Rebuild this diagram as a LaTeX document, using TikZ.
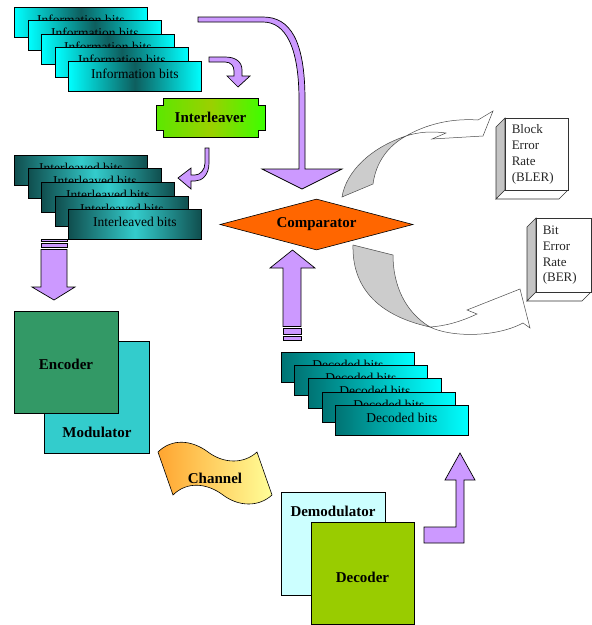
\documentclass[tikz,border=0pt]{standalone}
\usepackage{fontspec}
\setmainfont{Liberation Serif}
\usetikzlibrary{shapes.geometric}

\definecolor{lav}{HTML}{CC99FF}
\definecolor{encgreen}{HTML}{339966}
\definecolor{turq}{HTML}{33CCCC}
\definecolor{palecyan}{HTML}{CCFFFF}
\definecolor{olivegreen}{HTML}{99CC00}
\definecolor{orng}{HTML}{FF6600}
\definecolor{darkteal}{HTML}{0E5E5E}
\definecolor{nightteal}{HTML}{104E4E}
\definecolor{deepteal}{HTML}{007373}
\definecolor{aqua}{HTML}{00FFFF}
\definecolor{ribbongray}{HTML}{CCCCCC}
\definecolor{sidegray}{HTML}{C4C4C4}
\definecolor{limeA}{HTML}{5BE800}
\definecolor{limeB}{HTML}{9BD000}
\definecolor{limeC}{HTML}{3CFF00}
\definecolor{chanA}{HTML}{FFA530}
\definecolor{chanB}{HTML}{FFFF99}

\tikzset{
  bitbox/.style={draw=black, line width=0.8pt, minimum width=133pt, minimum height=30pt,
    inner sep=0pt, anchor=north west, text height=10pt, text depth=6pt,
    font=\fontsize{13.5}{16}\selectfont},
  infobox/.style={bitbox, left color=aqua, right color=aqua, middle color=darkteal},
  leavedbox/.style={bitbox, left color=nightteal, right color=nightteal, middle color=turq},
  decodedbox/.style={bitbox, left color=deepteal, right color=aqua},
  blockarrow/.style={fill=lav, draw=black, line width=0.7pt, line join=miter},
  blockfont/.style={font=\fontsize{15}{18}\selectfont\bfseries},
  unitbox/.style={draw=black, line width=0.9pt, inner sep=0pt, anchor=north west},
  ribbonback/.style={fill=ribbongray, draw=black!70, line width=0.5pt},
  ribbonfront/.style={fill=white, draw=black!70, line width=0.5pt},
  ratebox/.style={draw=black!80, line width=0.6pt, fill=white, anchor=north west,
    align=left, inner ysep=0pt, inner xsep=6.5pt,
    font=\fontsize{13}{15.8}\selectfont, text=black!85},
  sideface/.style={fill=sidegray, draw=black!80, line width=0.6pt},
  bottomface/.style={fill=white, draw=black!80, line width=0.6pt},
}

\begin{document}
\begin{tikzpicture}[x=1pt,y=-1pt]
\useasboundingbox (0,0) rectangle (592,625);

% ---------- information bits stack ----------
\foreach \i/\x/\y in {1/14/7, 2/28/20, 3/41/34, 4/55/47, 5/68/61}
  \node[infobox] (info\i) at (\x,\y) {Information bits};

% ---------- interleaved bits stack ----------
\foreach \i/\x/\y in {1/14/155, 2/28/168, 3/41/182, 4/55/196, 5/68/209}
  \node[leavedbox] (leaved\i) at (\x,\y) {Interleaved bits};

% ---------- decoded bits stack ----------
\foreach \i/\x/\y in {1/281/352, 2/294/365, 3/308/378, 4/322/392, 5/335/405}
  \node[decodedbox] (decoded\i) at (\x,\y) {Decoded bits};

% ---------- interleaver plaque ----------
\draw[line width=0.9pt, left color=limeA, right color=limeC, middle color=limeB]
  (163,98) -- (258,98) -- (258,105) -- (265,105) -- (265,130) -- (258,130)
  -- (258,137) -- (163,137) -- (163,130) -- (156,130) -- (156,105) -- (163,105) -- cycle;
\node[blockfont] (interleaver) at (210.5,117.5) {Interleaver};

% ---------- comparator ----------
\node[diamond, aspect=3.78, fill=orng, draw=black, line width=0.6pt,
      minimum width=193pt, minimum height=51pt, inner sep=0pt, blockfont]
  (comparator) at (316.5,224.5) {Comparator};

% ---------- encoder / modulator ----------
\node[unitbox, fill=turq, minimum width=105pt, minimum height=112pt] (modulator) at (44,341) {};
\node[blockfont] (modlabel) at (97,432) {Modulator};
\node[unitbox, fill=encgreen, minimum width=104pt, minimum height=102pt] (encoder) at (14,311) {};
\node[blockfont] (enclabel) at (66,364) {Encoder};

% ---------- demodulator / decoder ----------
\node[unitbox, fill=palecyan, minimum width=104pt, minimum height=103pt] (demodulator) at (281,492) {};
\node[blockfont] (demodlabel) at (333,511) {Demodulator};
\node[unitbox, fill=olivegreen, minimum width=103pt, minimum height=102pt] (decoder) at (311,522) {};
\node[blockfont] (declabel) at (362.5,577) {Decoder};

% ---------- channel ribbon ----------
\draw[line width=0.6pt, left color=chanA, right color=chanB]
  (158,452) .. controls (172,438) and (192,440) .. (208,452)
  .. controls (224,464) and (244,464) .. (257,452)
  -- (272,495)
  .. controls (259,507) and (239,507) .. (223,495)
  .. controls (207,483) and (187,481) .. (173,495) -- cycle;
\node[blockfont] (channel) at (215,478) {Channel};

% ---------- lavender block arrows ----------
% long bend from the information bits down into the comparator
\draw[blockarrow] (198,17) -- (263,17) .. controls (290,17) and (305,40) .. (305,100)
  -- (305,169) -- (342,169) -- (302,189) -- (262,169) -- (299,169) -- (299,100)
  .. controls (299,46) and (285,22) .. (263,22) -- (198,22) -- cycle;
% information bits to interleaver
\draw[blockarrow] (209,57) -- (225,57) .. controls (236,57) and (242,62) .. (242,70)
  -- (242,76) -- (250,76) -- (238,87) -- (227,76) -- (234,76) -- (234,71)
  .. controls (234,66) and (231,62) .. (225,62) -- (209,62) -- cycle;
% interleaver to interleaved bits
\draw[blockarrow] (205,148) -- (209,148) -- (209,163)
  .. controls (209,175) and (202,181) .. (195,181) -- (191,181) -- (191,189)
  -- (178,178) -- (191,168) -- (191,175) -- (195,175)
  .. controls (200,175) and (205,170) .. (205,163) -- cycle;
% striped arrow down to the encoder
\draw[blockarrow] (41,239) rectangle (67,241.5);
\draw[blockarrow] (41,243.5) rectangle (67,247.5);
\draw[blockarrow] (41,249.5) -- (67,249.5) -- (67,287) -- (75,287) -- (54,300)
  -- (32,287) -- (41,287) -- cycle;
% striped arrow up into the comparator
\draw[blockarrow] (283,336.5) rectangle (301,340);
\draw[blockarrow] (283,328.5) rectangle (301,334.5);
\draw[blockarrow] (283,326.5) -- (301,326.5) -- (301,268) -- (315,268) -- (292.5,250)
  -- (270,268) -- (283,268) -- cycle;
% bent arrow from the decoder up to the decoded bits
\draw[blockarrow] (424,527) -- (456,527) -- (456,480) -- (445,480) -- (460,453)
  -- (475,480) -- (464,480) -- (464,543) -- (424,543) -- cycle;

% ---------- curved ribbons towards the error rates ----------
\draw[ribbonback] (342,197) .. controls (346,172) and (370,148) .. (406,136)
  .. controls (388,146) and (376,162) .. (373,184) -- cycle;
\draw[ribbonfront] (406,136) .. controls (425,125) and (450,118) .. (478,120)
  -- (493,111) -- (483,136) -- (432,139) -- (446,133)
  .. controls (432,131) and (418,132) .. (406,136) -- cycle;

\draw[ribbonback] (353,245) -- (393,255) .. controls (393,285) and (405,312) .. (430,327)
  .. controls (375,315) and (352,285) .. (353,245) -- cycle;
\draw[ribbonfront] (430,327) .. controls (450,337) and (495,338) .. (523,323)
  -- (530,328) -- (520,289) -- (467,310) -- (477,314)
  .. controls (460,322) and (445,326) .. (430,327) -- cycle;

% ---------- error rate boxes ----------
\draw[sideface] (505,118) -- (496,127) -- (496,199) -- (505,190) -- cycle;
\draw[bottomface] (496,199) -- (559,199) -- (568,190) -- (505,190) -- cycle;
\node[ratebox, text width=50pt, minimum height=72pt] (bler) at (505,118)
  {Block\\Error\\Rate\\(BLER)};

\draw[sideface] (536,218) -- (527,227) -- (527,301) -- (536,292) -- cycle;
\draw[bottomface] (527,301) -- (582,301) -- (591,292) -- (536,292) -- cycle;
\node[ratebox, text width=42pt, minimum height=74pt] (ber) at (536,218)
  {Bit\\Error\\Rate\\(BER)};
\end{tikzpicture}
\end{document}
